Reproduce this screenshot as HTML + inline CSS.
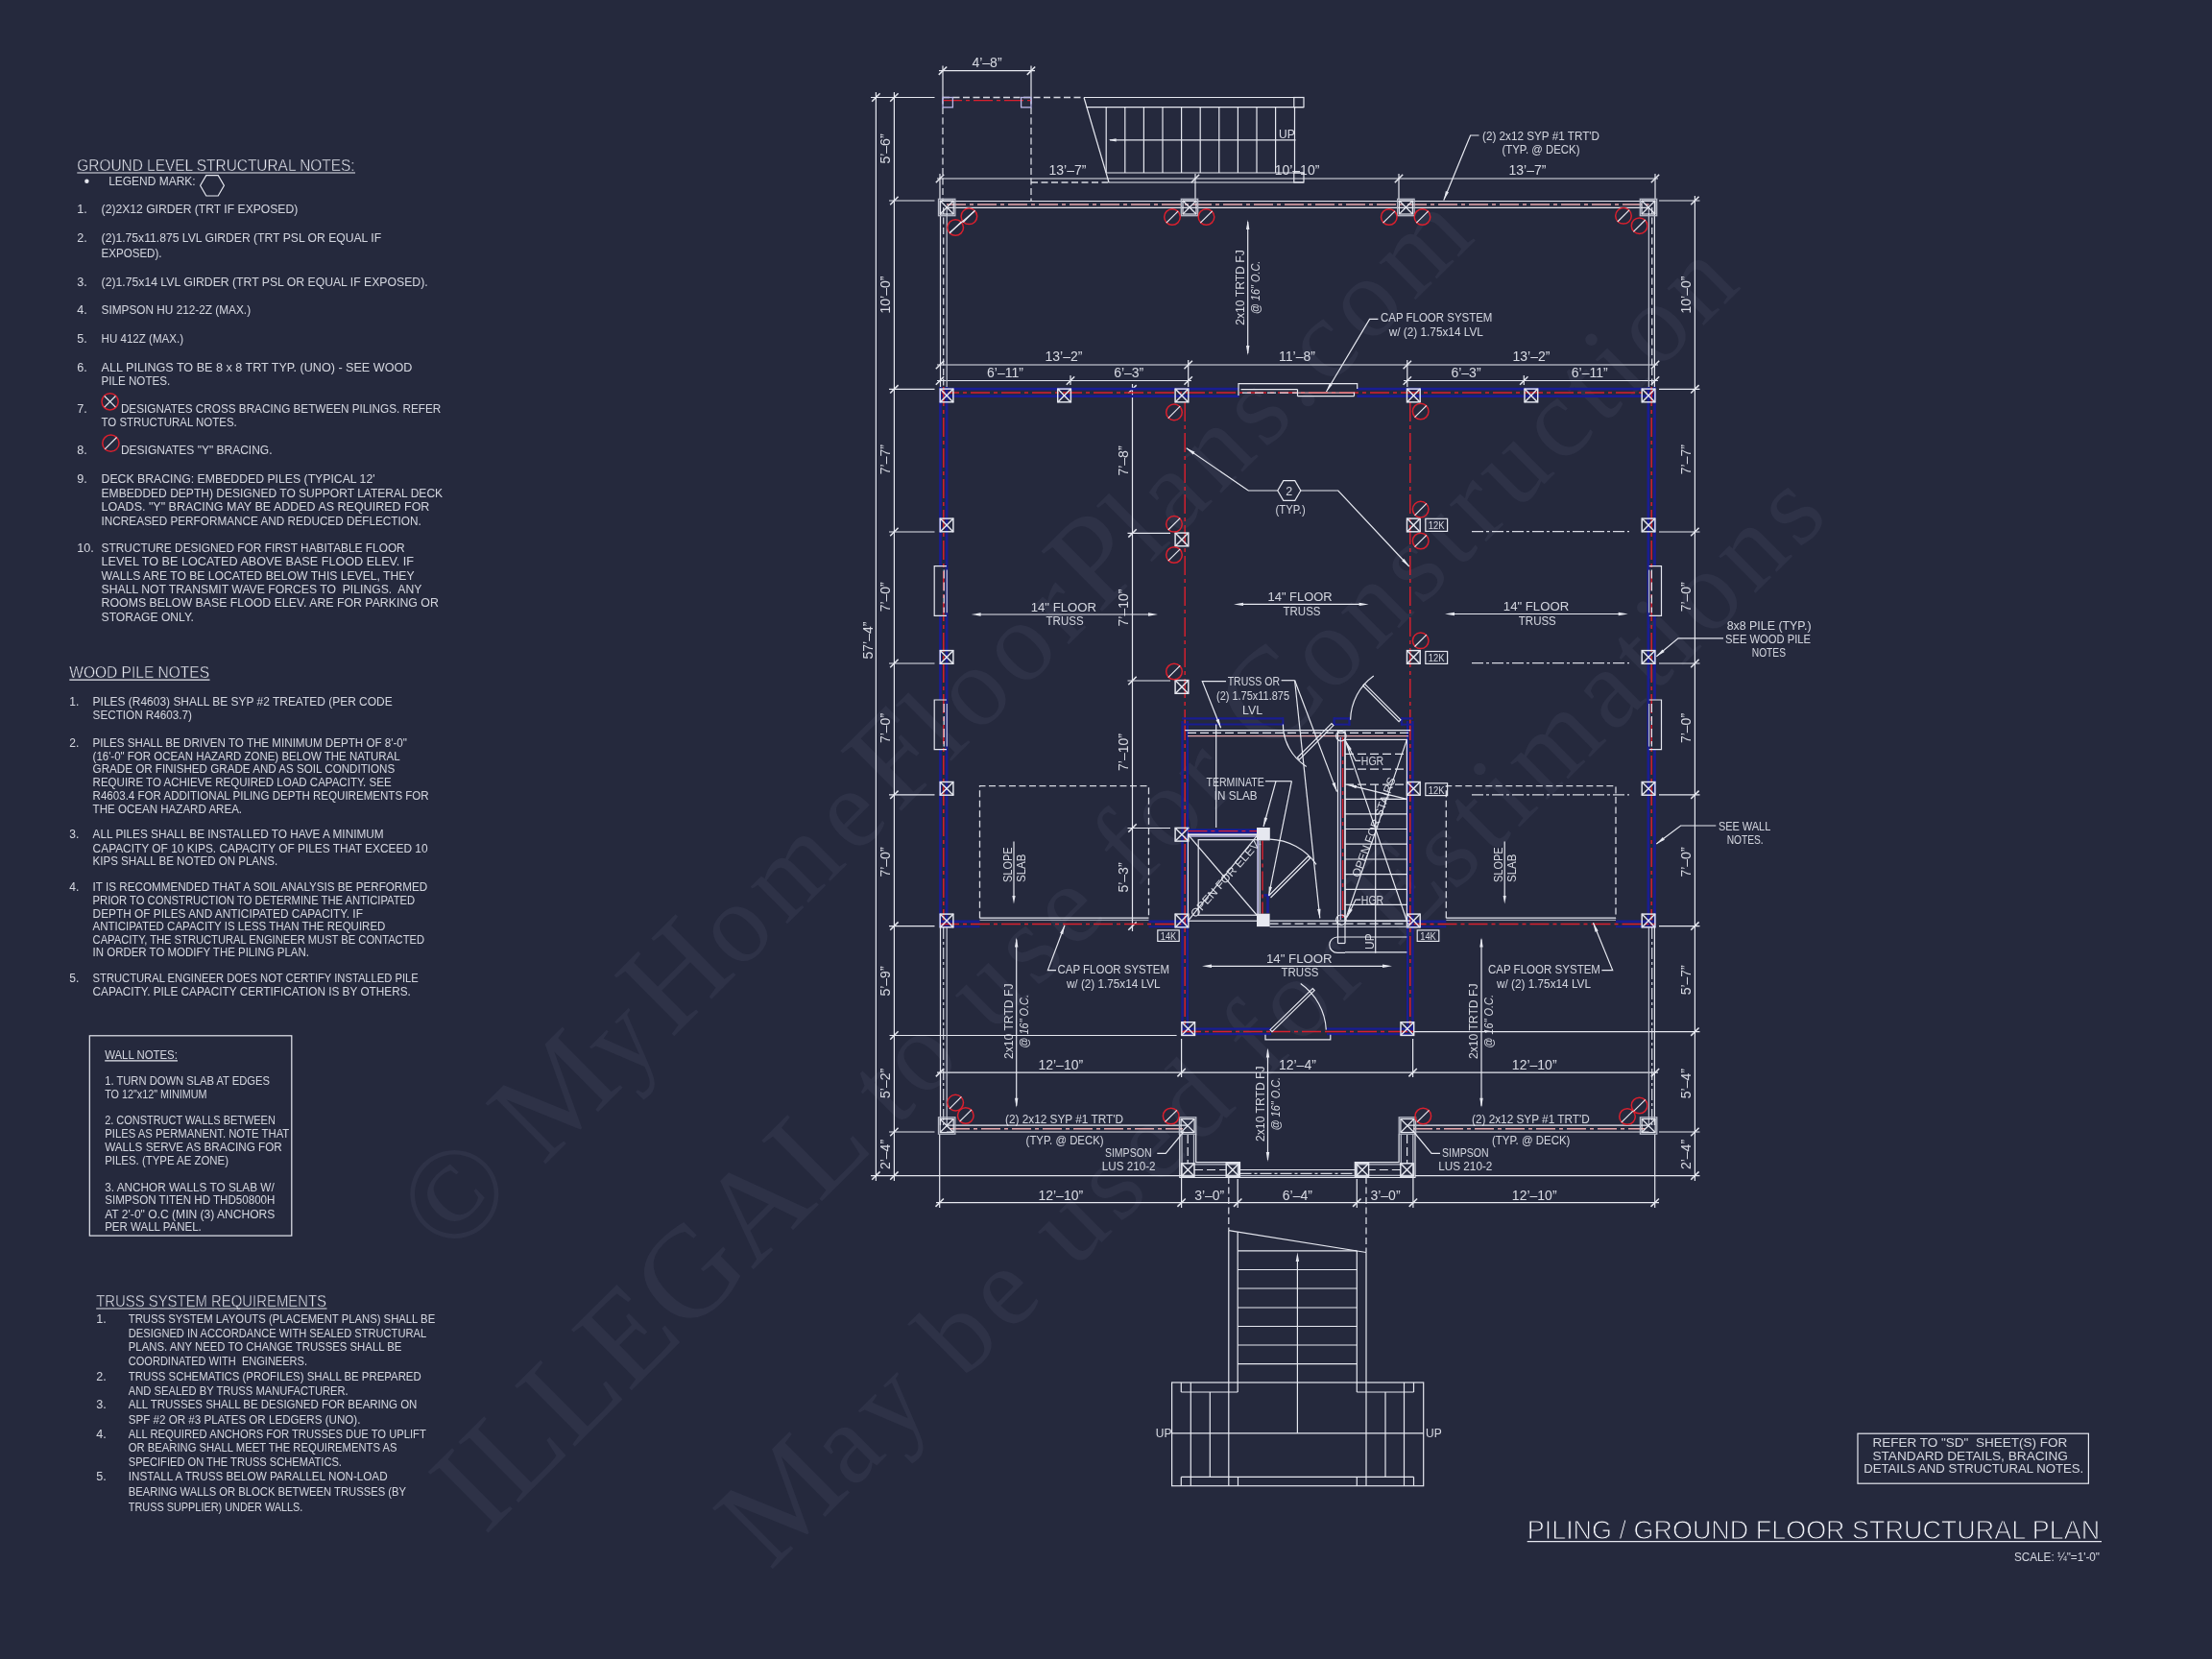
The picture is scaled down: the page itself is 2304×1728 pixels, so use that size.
<!DOCTYPE html>
<html lang="en"><head><meta charset="utf-8"><title>Piling / Ground Floor Structural Plan</title>
<style>
html,body{margin:0;padding:0;background:#25293d;}
body{width:2304px;height:1728px;overflow:hidden;}
svg{display:block;will-change:transform;}
text{font-family:"Liberation Sans",sans-serif;fill:#e6e8f0;white-space:pre;}
.t{fill:#e6e8f0;fill-opacity:.9;}
.d{fill:#e6e8f0;fill-opacity:.92;}
.th{fill:#e6e8f0;stroke:#25293d;stroke-width:.4;}
.tt{fill:#f2f3f8;stroke:#25293d;stroke-width:1.0;}
.wm{font-family:"Liberation Serif",serif;fill:#2e3247;}
.w{stroke:#e6e8f0;stroke-width:1.2;fill:none;}
.wt{stroke:#e6e8f0;stroke-width:.9;fill:none;stroke-opacity:.85;}
.g{stroke:#b9bcc9;stroke-width:1.3;fill:none;}
.wd{stroke:#e6e8f0;stroke-width:1.3;fill:none;stroke-dasharray:7 3.5;stroke-opacity:.92;}
.wdd{stroke:#e6e8f0;stroke-width:1.2;fill:none;stroke-dasharray:12 3 3 3;stroke-opacity:.92;}
.r{stroke:#d9202e;stroke-width:1.5;fill:none;}
.rd{stroke:#d9202e;stroke-width:1.45;fill:none;stroke-dasharray:20 4 4 4;}
.b{stroke:#191d92;stroke-width:2.7;fill:none;}
.bm{stroke:#191d92;stroke-width:2.3;fill:none;}
.bt{stroke:#191d92;stroke-width:2;fill:none;}
.p{stroke:#e8a7ab;stroke-width:1.6;fill:none;stroke-dasharray:20 4 4 4;}
.pk{stroke:#e8a7ab;stroke-width:1.3;fill:none;}
.lv{stroke:#b9b6e6;stroke-width:1.3;fill:none;}
.f{fill:#e6e8f0;stroke:none;}
.b2{stroke:#191d92;stroke-width:5.6;fill:none;}
.wl{stroke:#e6e8f0;stroke-width:1.2;fill:none;stroke-dasharray:9 4;}
.ar{fill:#e6e8f0;stroke:none;}
.pl{stroke:#e6e8f0;stroke-width:1.45;fill:none;}
.tk{stroke:#e6e8f0;stroke-width:1.5;fill:none;}
.ti{fill:#e6e8f0;fill-opacity:.9;font-style:italic;}
</style></head>
<body>
<svg width="2304" height="1728" viewBox="0 0 2304 1728">
<rect x="0" y="0" width="2304" height="1728" fill="#25293d"/>
<text x="468.0" y="1312.0" font-size="136" class="wm" aria-label="© MyHomeFloorPlans.com" transform="rotate(-44.8 468.0 1312.0)"><tspan>© M</tspan><tspan font-size="118.3" letter-spacing="8.84">y</tspan><tspan>H</tspan><tspan font-size="118.3" letter-spacing="10.15">ome</tspan><tspan>F</tspan><tspan font-size="118.3" letter-spacing="7.12">loor</tspan><tspan>P</tspan><tspan font-size="118.3" letter-spacing="7.92">lans.com</tspan></text>
<text x="505.0" y="1600.0" font-size="136" class="wm" aria-label="ILLEGAL to use for Construction" transform="rotate(-44.8 505.0 1600.0)"><tspan>ILLEGAL </tspan><tspan font-size="118.3" letter-spacing="6.88">to</tspan><tspan> </tspan><tspan font-size="118.3" letter-spacing="7.86">use</tspan><tspan> </tspan><tspan font-size="118.3" letter-spacing="6.87">for</tspan><tspan> C</tspan><tspan font-size="118.3" letter-spacing="7.23">onstruction</tspan></text>
<text x="802.0" y="1637.0" font-size="136" class="wm" aria-label="May be used for Estimations" transform="rotate(-44.8 802.0 1637.0)"><tspan>M</tspan><tspan font-size="118.3" letter-spacing="8.34">ay</tspan><tspan> </tspan><tspan font-size="118.3" letter-spacing="8.34">be</tspan><tspan> </tspan><tspan font-size="118.3" letter-spacing="8.10">used</tspan><tspan> </tspan><tspan font-size="118.3" letter-spacing="6.87">for</tspan><tspan> E</tspan><tspan font-size="118.3" letter-spacing="7.27">stimations</tspan></text>
<text x="80.3" y="177.8" font-size="16.8" class="th" textLength="289.3" lengthAdjust="spacingAndGlyphs">GROUND LEVEL STRUCTURAL NOTES:</text>
<line x1="80.3" y1="180.0" x2="370.0" y2="180.0" class="w"/>
<circle cx="90.4" cy="188.8" r="2.2" class="f"/>
<text x="113.2" y="193.0" font-size="12.6" class="t" textLength="90.4" lengthAdjust="spacingAndGlyphs">LEGEND MARK:</text>
<polygon points="233.4,193.3 227.2,204.0 214.8,204.0 208.6,193.3 214.8,182.6 227.2,182.6" class="w"/>
<text x="80.3" y="222.2" font-size="12.6" class="t">1.</text>
<text x="105.6" y="222.2" font-size="12.6" class="t" textLength="204.7" lengthAdjust="spacingAndGlyphs">(2)2X12 GIRDER (TRT IF EXPOSED)</text>
<text x="80.3" y="252.3" font-size="12.6" class="t">2.</text>
<text x="105.6" y="252.3" font-size="12.6" class="t" textLength="291.5" lengthAdjust="spacingAndGlyphs">(2)1.75x11.875 LVL GIRDER (TRT PSL OR EQUAL IF</text>
<text x="105.6" y="267.8" font-size="12.6" class="t" textLength="62.9" lengthAdjust="spacingAndGlyphs">EXPOSED).</text>
<text x="80.3" y="297.5" font-size="12.6" class="t">3.</text>
<text x="105.6" y="297.5" font-size="12.6" class="t" textLength="340.0" lengthAdjust="spacingAndGlyphs">(2)1.75x14 LVL GIRDER (TRT PSL OR EQUAL IF EXPOSED).</text>
<text x="80.3" y="327.1" font-size="12.6" class="t">4.</text>
<text x="105.6" y="327.1" font-size="12.6" class="t" textLength="155.5" lengthAdjust="spacingAndGlyphs">SIMPSON HU 212-2Z (MAX.)</text>
<text x="80.3" y="356.8" font-size="12.6" class="t">5.</text>
<text x="105.6" y="356.8" font-size="12.6" class="t" textLength="85.4" lengthAdjust="spacingAndGlyphs">HU 412Z (MAX.)</text>
<text x="80.3" y="386.8" font-size="12.6" class="t">6.</text>
<text x="105.6" y="386.8" font-size="12.6" class="t" textLength="323.7" lengthAdjust="spacingAndGlyphs">ALL PILINGS TO BE 8 x 8 TRT TYP. (UNO) - SEE WOOD</text>
<text x="105.6" y="401.3" font-size="12.6" class="t" textLength="71.6" lengthAdjust="spacingAndGlyphs">PILE NOTES.</text>
<text x="105.6" y="443.9" font-size="12.6" class="t" textLength="141.1" lengthAdjust="spacingAndGlyphs">TO STRUCTURAL NOTES.</text>
<text x="80.3" y="502.5" font-size="12.6" class="t">9.</text>
<text x="105.6" y="502.5" font-size="12.6" class="t" textLength="285.0" lengthAdjust="spacingAndGlyphs">DECK BRACING: EMBEDDED PILES (TYPICAL 12'</text>
<text x="105.6" y="517.7" font-size="12.6" class="t" textLength="355.5" lengthAdjust="spacingAndGlyphs">EMBEDDED DEPTH) DESIGNED TO SUPPORT LATERAL DECK</text>
<text x="105.6" y="532.2" font-size="12.6" class="t" textLength="341.8" lengthAdjust="spacingAndGlyphs">LOADS. "Y" BRACING MAY BE ADDED AS REQUIRED FOR</text>
<text x="105.6" y="546.7" font-size="12.6" class="t" textLength="333.1" lengthAdjust="spacingAndGlyphs">INCREASED PERFORMANCE AND REDUCED DEFLECTION.</text>
<text x="80.3" y="575.2" font-size="12.6" class="t">10.</text>
<text x="105.6" y="575.2" font-size="12.6" class="t" textLength="316.1" lengthAdjust="spacingAndGlyphs">STRUCTURE DESIGNED FOR FIRST HABITABLE FLOOR</text>
<text x="105.6" y="589.3" font-size="12.6" class="t" textLength="325.5" lengthAdjust="spacingAndGlyphs">LEVEL TO BE LOCATED ABOVE BASE FLOOD ELEV. IF</text>
<text x="105.6" y="603.8" font-size="12.6" class="t" textLength="325.9" lengthAdjust="spacingAndGlyphs">WALLS ARE TO BE LOCATED BELOW THIS LEVEL, THEY</text>
<text x="105.6" y="617.9" font-size="12.6" class="t" textLength="333.8" lengthAdjust="spacingAndGlyphs">SHALL NOT TRANSMIT WAVE FORCES TO  PILINGS.  ANY</text>
<text x="105.6" y="632.4" font-size="12.6" class="t" textLength="351.2" lengthAdjust="spacingAndGlyphs">ROOMS BELOW BASE FLOOD ELEV. ARE FOR PARKING OR</text>
<text x="105.6" y="646.5" font-size="12.6" class="t" textLength="96.2" lengthAdjust="spacingAndGlyphs">STORAGE ONLY.</text>
<text x="80.3" y="429.5" font-size="12.6" class="t">7.</text>
<text x="125.9" y="429.5" font-size="12.6" class="t" textLength="333.4" lengthAdjust="spacingAndGlyphs">DESIGNATES CROSS BRACING BETWEEN PILINGS. REFER</text>
<text x="80.3" y="472.5" font-size="12.6" class="t">8.</text>
<text x="125.9" y="472.5" font-size="12.6" class="t" textLength="157.6" lengthAdjust="spacingAndGlyphs">DESIGNATES "Y" BRACING.</text>
<circle cx="114.6" cy="418.3" r="8.6" class="r"/>
<line x1="108.8" y1="412.5" x2="120.4" y2="424.1" class="w"/>
<line x1="108.8" y1="424.1" x2="120.4" y2="412.5" class="w"/>
<circle cx="115.4" cy="461.7" r="8.6" class="r"/>
<line x1="109.2" y1="467.9" x2="121.6" y2="455.5" class="w"/>
<text x="72.3" y="706.0" font-size="16.6" class="th" textLength="145.7" lengthAdjust="spacingAndGlyphs">WOOD PILE NOTES</text>
<line x1="72.3" y1="708.2" x2="218.5" y2="708.2" class="w"/>
<text x="72.3" y="734.5" font-size="12.0" class="t">1.</text>
<text x="96.6" y="734.5" font-size="12.0" class="t" textLength="312.1" lengthAdjust="spacingAndGlyphs">PILES (R4603) SHALL BE SYP #2 TREATED (PER CODE</text>
<text x="96.6" y="749.3" font-size="12.0" class="t" textLength="103.4" lengthAdjust="spacingAndGlyphs">SECTION R4603.7)</text>
<text x="72.3" y="777.5" font-size="12.0" class="t">2.</text>
<text x="96.6" y="777.5" font-size="12.0" class="t" textLength="327.3" lengthAdjust="spacingAndGlyphs">PILES SHALL BE DRIVEN TO THE MINIMUM DEPTH OF 8'-0"</text>
<text x="96.6" y="791.6" font-size="12.0" class="t" textLength="320.0" lengthAdjust="spacingAndGlyphs">(16'-0" FOR OCEAN HAZARD ZONE) BELOW THE NATURAL</text>
<text x="96.6" y="805.4" font-size="12.0" class="t" textLength="314.6" lengthAdjust="spacingAndGlyphs">GRADE OR FINISHED GRADE AND AS SOIL CONDITIONS</text>
<text x="96.6" y="819.1" font-size="12.0" class="t" textLength="311.0" lengthAdjust="spacingAndGlyphs">REQUIRE TO ACHIEVE REQUIRED LOAD CAPACITY. SEE</text>
<text x="96.6" y="832.9" font-size="12.0" class="t" textLength="350.1" lengthAdjust="spacingAndGlyphs">R4603.4 FOR ADDITIONAL PILING DEPTH REQUIREMENTS FOR</text>
<text x="96.6" y="846.6" font-size="12.0" class="t" textLength="155.5" lengthAdjust="spacingAndGlyphs">THE OCEAN HAZARD AREA.</text>
<text x="72.3" y="873.4" font-size="12.0" class="t">3.</text>
<text x="96.6" y="873.4" font-size="12.0" class="t" textLength="303.0" lengthAdjust="spacingAndGlyphs">ALL PILES SHALL BE INSTALLED TO HAVE A MINIMUM</text>
<text x="96.6" y="887.5" font-size="12.0" class="t" textLength="349.0" lengthAdjust="spacingAndGlyphs">CAPACITY OF 10 KIPS. CAPACITY OF PILES THAT EXCEED 10</text>
<text x="96.6" y="901.2" font-size="12.0" class="t" textLength="192.7" lengthAdjust="spacingAndGlyphs">KIPS SHALL BE NOTED ON PLANS.</text>
<text x="72.3" y="928.0" font-size="12.0" class="t">4.</text>
<text x="96.6" y="928.0" font-size="12.0" class="t" textLength="348.6" lengthAdjust="spacingAndGlyphs">IT IS RECOMMENDED THAT A SOIL ANALYSIS BE PERFORMED</text>
<text x="96.6" y="941.7" font-size="12.0" class="t" textLength="335.6" lengthAdjust="spacingAndGlyphs">PRIOR TO CONSTRUCTION TO DETERMINE THE ANTICIPATED</text>
<text x="96.6" y="955.5" font-size="12.0" class="t" textLength="281.3" lengthAdjust="spacingAndGlyphs">DEPTH OF PILES AND ANTICIPATED CAPACITY. IF</text>
<text x="96.6" y="968.9" font-size="12.0" class="t" textLength="304.8" lengthAdjust="spacingAndGlyphs">ANTICIPATED CAPACITY IS LESS THAN THE REQUIRED</text>
<text x="96.6" y="982.6" font-size="12.0" class="t" textLength="345.4" lengthAdjust="spacingAndGlyphs">CAPACITY, THE STRUCTURAL ENGINEER MUST BE CONTACTED</text>
<text x="96.6" y="996.0" font-size="12.0" class="t" textLength="225.3" lengthAdjust="spacingAndGlyphs">IN ORDER TO MODIFY THE PILING PLAN.</text>
<text x="72.3" y="1023.1" font-size="12.0" class="t">5.</text>
<text x="96.6" y="1023.1" font-size="12.0" class="t" textLength="339.2" lengthAdjust="spacingAndGlyphs">STRUCTURAL ENGINEER DOES NOT CERTIFY INSTALLED PILE</text>
<text x="96.6" y="1036.9" font-size="12.0" class="t" textLength="331.2" lengthAdjust="spacingAndGlyphs">CAPACITY. PILE CAPACITY CERTIFICATION IS BY OTHERS.</text>
<rect x="93.3" y="1078.8" width="210.5" height="208.3" class="w"/>
<text x="109.2" y="1102.7" font-size="12.0" class="t" textLength="75.6" lengthAdjust="spacingAndGlyphs">WALL NOTES:</text>
<line x1="109.2" y1="1104.8" x2="185.0" y2="1104.8" class="w"/>
<text x="109.2" y="1130.2" font-size="12.0" class="t" textLength="171.8" lengthAdjust="spacingAndGlyphs">1. TURN DOWN SLAB AT EDGES</text>
<text x="109.2" y="1143.9" font-size="12.0" class="t" textLength="106.4" lengthAdjust="spacingAndGlyphs">TO 12"x12" MINIMUM</text>
<text x="109.2" y="1171.0" font-size="12.0" class="t" textLength="177.6" lengthAdjust="spacingAndGlyphs">2. CONSTRUCT WALLS BETWEEN</text>
<text x="109.2" y="1184.8" font-size="12.0" class="t" textLength="192.1" lengthAdjust="spacingAndGlyphs">PILES AS PERMANENT. NOTE THAT</text>
<text x="109.2" y="1198.5" font-size="12.0" class="t" textLength="184.5" lengthAdjust="spacingAndGlyphs">WALLS SERVE AS BRACING FOR</text>
<text x="109.2" y="1213.0" font-size="12.0" class="t" textLength="128.8" lengthAdjust="spacingAndGlyphs">PILES. (TYPE AE ZONE)</text>
<text x="109.2" y="1240.5" font-size="12.0" class="t" textLength="176.5" lengthAdjust="spacingAndGlyphs">3. ANCHOR WALLS TO SLAB W/</text>
<text x="109.2" y="1254.2" font-size="12.0" class="t" textLength="177.2" lengthAdjust="spacingAndGlyphs">SIMPSON TITEN HD THD50800H</text>
<text x="109.2" y="1268.7" font-size="12.0" class="t" textLength="177.2" lengthAdjust="spacingAndGlyphs">AT 2'-0" O.C (MIN (3) ANCHORS</text>
<text x="109.2" y="1282.4" font-size="12.0" class="t" textLength="100.6" lengthAdjust="spacingAndGlyphs">PER WALL PANEL.</text>
<text x="100.2" y="1360.9" font-size="16.6" class="th" textLength="239.8" lengthAdjust="spacingAndGlyphs">TRUSS SYSTEM REQUIREMENTS</text>
<line x1="100.2" y1="1363.0" x2="340.5" y2="1363.0" class="w"/>
<text x="100.2" y="1377.9" font-size="12.6" class="t">1.</text>
<text x="133.8" y="1377.9" font-size="12.6" class="t" textLength="319.4" lengthAdjust="spacingAndGlyphs">TRUSS SYSTEM LAYOUTS (PLACEMENT PLANS) SHALL BE</text>
<text x="133.8" y="1392.7" font-size="12.6" class="t" textLength="310.3" lengthAdjust="spacingAndGlyphs">DESIGNED IN ACCORDANCE WITH SEALED STRUCTURAL</text>
<text x="133.8" y="1407.2" font-size="12.6" class="t" textLength="284.6" lengthAdjust="spacingAndGlyphs">PLANS. ANY NEED TO CHANGE TRUSSES SHALL BE</text>
<text x="133.8" y="1422.0" font-size="12.6" class="t" textLength="186.2" lengthAdjust="spacingAndGlyphs">COORDINATED WITH  ENGINEERS.</text>
<text x="100.2" y="1437.6" font-size="12.6" class="t">2.</text>
<text x="133.8" y="1437.6" font-size="12.6" class="t" textLength="304.9" lengthAdjust="spacingAndGlyphs">TRUSS SCHEMATICS (PROFILES) SHALL BE PREPARED</text>
<text x="133.8" y="1452.8" font-size="12.6" class="t" textLength="228.9" lengthAdjust="spacingAndGlyphs">AND SEALED BY TRUSS MANUFACTURER.</text>
<text x="100.2" y="1467.2" font-size="12.6" class="t">3.</text>
<text x="133.8" y="1467.2" font-size="12.6" class="t" textLength="300.6" lengthAdjust="spacingAndGlyphs">ALL TRUSSES SHALL BE DESIGNED FOR BEARING ON</text>
<text x="133.8" y="1482.8" font-size="12.6" class="t" textLength="241.6" lengthAdjust="spacingAndGlyphs">SPF #2 OR #3 PLATES OR LEDGERS (UNO).</text>
<text x="100.2" y="1497.6" font-size="12.6" class="t">4.</text>
<text x="133.8" y="1497.6" font-size="12.6" class="t" textLength="310.0" lengthAdjust="spacingAndGlyphs">ALL REQUIRED ANCHORS FOR TRUSSES DUE TO UPLIFT</text>
<text x="133.8" y="1512.4" font-size="12.6" class="t" textLength="279.6" lengthAdjust="spacingAndGlyphs">OR BEARING SHALL MEET THE REQUIREMENTS AS</text>
<text x="133.8" y="1527.3" font-size="12.6" class="t" textLength="222.1" lengthAdjust="spacingAndGlyphs">SPECIFIED ON THE TRUSS SCHEMATICS.</text>
<text x="100.2" y="1542.1" font-size="12.6" class="t">5.</text>
<text x="133.8" y="1542.1" font-size="12.6" class="t" textLength="269.8" lengthAdjust="spacingAndGlyphs">INSTALL A TRUSS BELOW PARALLEL NON-LOAD</text>
<text x="133.8" y="1558.0" font-size="12.6" class="t" textLength="289.3" lengthAdjust="spacingAndGlyphs">BEARING WALLS OR BLOCK BETWEEN TRUSSES (BY</text>
<text x="133.8" y="1573.6" font-size="12.6" class="t" textLength="181.6" lengthAdjust="spacingAndGlyphs">TRUSS SUPPLIER) UNDER WALLS.</text>
<rect x="1935.0" y="1493.2" width="240.4" height="52.0" class="w"/>
<text x="1950.4" y="1507.0" font-size="12.6" class="t" textLength="202.9" lengthAdjust="spacingAndGlyphs">REFER TO "SD"  SHEET(S) FOR</text>
<text x="1950.4" y="1520.8" font-size="12.6" class="t" textLength="203.5" lengthAdjust="spacingAndGlyphs">STANDARD DETAILS, BRACING</text>
<text x="1941.2" y="1534.3" font-size="12.6" class="t" textLength="229.0" lengthAdjust="spacingAndGlyphs">DETAILS AND STRUCTURAL NOTES.</text>
<text x="1590.7" y="1602.6" font-size="28" class="tt" textLength="596.4" lengthAdjust="spacingAndGlyphs">PILING / GROUND FLOOR STRUCTURAL PLAN</text>
<line x1="1590.7" y1="1605.6" x2="2189.0" y2="1605.6" class="w"/>
<text x="2098.0" y="1626.0" font-size="12.6" class="t" textLength="89.0" lengthAdjust="spacingAndGlyphs">SCALE: ¼"=1'-0"</text>
<line x1="912.4" y1="96.0" x2="912.4" y2="1230.0" class="w"/>
<line x1="931.4" y1="96.0" x2="931.4" y2="1230.0" class="w"/>
<line x1="908.2" y1="105.7" x2="916.6" y2="97.3" class="tk"/>
<line x1="908.2" y1="1228.8" x2="916.6" y2="1220.4" class="tk"/>
<line x1="927.2" y1="105.7" x2="935.6" y2="97.3" class="tk"/>
<line x1="927.2" y1="213.2" x2="935.6" y2="204.8" class="tk"/>
<line x1="927.2" y1="409.5" x2="935.6" y2="401.1" class="tk"/>
<line x1="927.2" y1="558.2" x2="935.6" y2="549.8" class="tk"/>
<line x1="927.2" y1="695.2" x2="935.6" y2="686.8" class="tk"/>
<line x1="927.2" y1="832.0" x2="935.6" y2="823.6" class="tk"/>
<line x1="927.2" y1="968.8" x2="935.6" y2="960.4" class="tk"/>
<line x1="927.2" y1="1082.7" x2="935.6" y2="1074.3" class="tk"/>
<line x1="927.2" y1="1183.2" x2="935.6" y2="1174.8" class="tk"/>
<line x1="927.2" y1="1228.8" x2="935.6" y2="1220.4" class="tk"/>
<line x1="907.0" y1="101.5" x2="973.5" y2="101.5" class="w"/>
<line x1="926.0" y1="209.0" x2="973.5" y2="209.0" class="w"/>
<line x1="926.0" y1="405.3" x2="973.5" y2="405.3" class="w"/>
<line x1="926.0" y1="554.0" x2="973.5" y2="554.0" class="w"/>
<line x1="926.0" y1="691.0" x2="973.5" y2="691.0" class="w"/>
<line x1="926.0" y1="827.8" x2="973.5" y2="827.8" class="w"/>
<line x1="926.0" y1="964.6" x2="973.5" y2="964.6" class="w"/>
<line x1="926.0" y1="1179.0" x2="973.5" y2="1179.0" class="w"/>
<line x1="926.5" y1="1078.5" x2="1225.6" y2="1078.5" class="w"/>
<line x1="907.0" y1="1224.6" x2="1230.6" y2="1224.6" class="w"/>
<text x="0" y="5.0" font-size="14" class="d" text-anchor="middle" transform="translate(922.3 155.0) rotate(-90)">5’–6”</text>
<text x="0" y="5.0" font-size="14" class="d" text-anchor="middle" transform="translate(922.3 307.0) rotate(-90)">10’–0”</text>
<text x="0" y="5.0" font-size="14" class="d" text-anchor="middle" transform="translate(922.3 478.7) rotate(-90)">7’–7”</text>
<text x="0" y="5.0" font-size="14" class="d" text-anchor="middle" transform="translate(922.3 621.8) rotate(-90)">7’–0”</text>
<text x="0" y="5.0" font-size="14" class="d" text-anchor="middle" transform="translate(922.3 758.5) rotate(-90)">7’–0”</text>
<text x="0" y="5.0" font-size="14" class="d" text-anchor="middle" transform="translate(922.3 898.0) rotate(-90)">7’–0”</text>
<text x="0" y="5.0" font-size="14" class="d" text-anchor="middle" transform="translate(922.3 1022.0) rotate(-90)">5’–9”</text>
<text x="0" y="5.0" font-size="14" class="d" text-anchor="middle" transform="translate(922.3 1128.4) rotate(-90)">5’–2”</text>
<text x="0" y="5.0" font-size="14" class="d" text-anchor="middle" transform="translate(922.3 1202.5) rotate(-90)">2’–4”</text>
<text x="0" y="5.0" font-size="14" class="d" text-anchor="middle" transform="translate(903.5 667.0) rotate(-90)">57’–4”</text>
<line x1="1765.4" y1="204.0" x2="1765.4" y2="1230.0" class="w"/>
<line x1="1761.2" y1="213.2" x2="1769.6" y2="204.8" class="tk"/>
<line x1="1761.2" y1="409.5" x2="1769.6" y2="401.1" class="tk"/>
<line x1="1761.2" y1="558.2" x2="1769.6" y2="549.8" class="tk"/>
<line x1="1761.2" y1="695.2" x2="1769.6" y2="686.8" class="tk"/>
<line x1="1761.2" y1="832.0" x2="1769.6" y2="823.6" class="tk"/>
<line x1="1761.2" y1="968.8" x2="1769.6" y2="960.4" class="tk"/>
<line x1="1761.2" y1="1078.9" x2="1769.6" y2="1070.5" class="tk"/>
<line x1="1761.2" y1="1183.2" x2="1769.6" y2="1174.8" class="tk"/>
<line x1="1761.2" y1="1228.8" x2="1769.6" y2="1220.4" class="tk"/>
<line x1="1728.0" y1="209.0" x2="1770.5" y2="209.0" class="w"/>
<line x1="1728.0" y1="405.3" x2="1770.5" y2="405.3" class="w"/>
<line x1="1728.0" y1="554.0" x2="1770.5" y2="554.0" class="w"/>
<line x1="1728.0" y1="691.0" x2="1770.5" y2="691.0" class="w"/>
<line x1="1728.0" y1="827.8" x2="1770.5" y2="827.8" class="w"/>
<line x1="1728.0" y1="964.6" x2="1770.5" y2="964.6" class="w"/>
<line x1="1728.0" y1="1179.0" x2="1770.5" y2="1179.0" class="w"/>
<line x1="1473.0" y1="1074.7" x2="1770.5" y2="1074.7" class="w"/>
<line x1="1474.0" y1="1224.6" x2="1770.5" y2="1224.6" class="w"/>
<text x="0" y="5.0" font-size="14" class="d" text-anchor="middle" transform="translate(1755.8 307.0) rotate(-90)">10’–0”</text>
<text x="0" y="5.0" font-size="14" class="d" text-anchor="middle" transform="translate(1755.8 478.7) rotate(-90)">7’–7”</text>
<text x="0" y="5.0" font-size="14" class="d" text-anchor="middle" transform="translate(1755.8 621.8) rotate(-90)">7’–0”</text>
<text x="0" y="5.0" font-size="14" class="d" text-anchor="middle" transform="translate(1755.8 758.5) rotate(-90)">7’–0”</text>
<text x="0" y="5.0" font-size="14" class="d" text-anchor="middle" transform="translate(1755.8 898.0) rotate(-90)">7’–0”</text>
<text x="0" y="5.0" font-size="14" class="d" text-anchor="middle" transform="translate(1755.8 1020.8) rotate(-90)">5’–7”</text>
<text x="0" y="5.0" font-size="14" class="d" text-anchor="middle" transform="translate(1755.8 1128.7) rotate(-90)">5’–4”</text>
<text x="0" y="5.0" font-size="14" class="d" text-anchor="middle" transform="translate(1755.8 1202.5) rotate(-90)">2’–4”</text>
<line x1="1179.5" y1="400.0" x2="1179.5" y2="970.0" class="w"/>
<line x1="1175.3" y1="409.5" x2="1183.7" y2="401.1" class="tk"/>
<line x1="1175.3" y1="559.6" x2="1183.7" y2="551.2" class="tk"/>
<line x1="1175.3" y1="713.2" x2="1183.7" y2="704.8" class="tk"/>
<line x1="1175.3" y1="866.7" x2="1183.7" y2="858.3" class="tk"/>
<line x1="1175.3" y1="968.8" x2="1183.7" y2="960.4" class="tk"/>
<line x1="1174.5" y1="555.4" x2="1219.0" y2="555.4" class="w"/>
<line x1="1174.5" y1="709.0" x2="1219.0" y2="709.0" class="w"/>
<line x1="1174.5" y1="862.5" x2="1219.0" y2="862.5" class="w"/>
<line x1="1174.5" y1="405.3" x2="1219.0" y2="405.3" class="w"/>
<text x="0" y="5.0" font-size="14" class="d" text-anchor="middle" transform="translate(1170.4 480.0) rotate(-90)">7’–8”</text>
<text x="0" y="5.0" font-size="14" class="d" text-anchor="middle" transform="translate(1170.4 633.0) rotate(-90)">7’–10”</text>
<text x="0" y="5.0" font-size="14" class="d" text-anchor="middle" transform="translate(1170.4 783.5) rotate(-90)">7’–10”</text>
<text x="0" y="5.0" font-size="14" class="d" text-anchor="middle" transform="translate(1170.4 914.0) rotate(-90)">5’–3”</text>
<line x1="978.0" y1="73.7" x2="1078.0" y2="73.7" class="w"/>
<line x1="977.8" y1="77.9" x2="986.2" y2="69.5" class="tk"/>
<line x1="1069.8" y1="77.9" x2="1078.2" y2="69.5" class="tk"/>
<line x1="982.0" y1="68.5" x2="982.0" y2="101.5" class="w"/>
<line x1="1074.0" y1="68.5" x2="1074.0" y2="101.5" class="w"/>
<text x="1028.0" y="69.8" font-size="14" class="d" text-anchor="middle">4’–8”</text>
<line x1="976.0" y1="186.0" x2="1727.0" y2="186.0" class="w"/>
<line x1="974.8" y1="190.2" x2="983.2" y2="181.8" class="tk"/>
<line x1="1240.8" y1="190.2" x2="1249.2" y2="181.8" class="tk"/>
<line x1="1452.8" y1="190.2" x2="1461.2" y2="181.8" class="tk"/>
<line x1="1719.8" y1="190.2" x2="1728.2" y2="181.8" class="tk"/>
<line x1="1245.0" y1="181.0" x2="1245.0" y2="207.0" class="w"/>
<line x1="1457.0" y1="181.0" x2="1457.0" y2="207.0" class="w"/>
<line x1="979.0" y1="181.0" x2="979.0" y2="207.0" class="w"/>
<line x1="1724.0" y1="181.0" x2="1724.0" y2="207.0" class="w"/>
<text x="1112.0" y="182.3" font-size="14" class="d" text-anchor="middle">13’–7”</text>
<text x="1351.0" y="182.3" font-size="14" class="d" text-anchor="middle">10’–10”</text>
<text x="1591.0" y="182.3" font-size="14" class="d" text-anchor="middle">13’–7”</text>
<line x1="976.0" y1="380.0" x2="1727.0" y2="380.0" class="w"/>
<line x1="974.8" y1="384.2" x2="983.2" y2="375.8" class="tk"/>
<line x1="1233.5" y1="384.2" x2="1241.9" y2="375.8" class="tk"/>
<line x1="1461.6" y1="384.2" x2="1470.0" y2="375.8" class="tk"/>
<line x1="1719.8" y1="384.2" x2="1728.2" y2="375.8" class="tk"/>
<text x="1108.0" y="375.8" font-size="14" class="d" text-anchor="middle">13’–2”</text>
<text x="1351.0" y="375.8" font-size="14" class="d" text-anchor="middle">11’–8”</text>
<text x="1595.0" y="375.8" font-size="14" class="d" text-anchor="middle">13’–2”</text>
<line x1="976.0" y1="396.5" x2="1241.0" y2="396.5" class="w"/>
<line x1="1462.0" y1="396.5" x2="1727.0" y2="396.5" class="w"/>
<line x1="974.8" y1="400.7" x2="983.2" y2="392.3" class="tk"/>
<line x1="1110.8" y1="400.7" x2="1119.2" y2="392.3" class="tk"/>
<line x1="1233.5" y1="400.7" x2="1241.9" y2="392.3" class="tk"/>
<line x1="1461.6" y1="400.7" x2="1470.0" y2="392.3" class="tk"/>
<line x1="1583.1" y1="400.7" x2="1591.5" y2="392.3" class="tk"/>
<line x1="1719.8" y1="400.7" x2="1728.2" y2="392.3" class="tk"/>
<line x1="1115.0" y1="391.0" x2="1115.0" y2="401.0" class="w"/>
<line x1="1587.3" y1="391.0" x2="1587.3" y2="401.0" class="w"/>
<line x1="1237.7" y1="375.0" x2="1237.7" y2="403.0" class="w"/>
<line x1="1465.8" y1="375.0" x2="1465.8" y2="403.0" class="w"/>
<text x="1047.0" y="392.8" font-size="14" class="d" text-anchor="middle">6’–11”</text>
<text x="1175.7" y="392.8" font-size="14" class="d" text-anchor="middle">6’–3”</text>
<text x="1527.0" y="392.8" font-size="14" class="d" text-anchor="middle">6’–3”</text>
<text x="1655.7" y="392.8" font-size="14" class="d" text-anchor="middle">6’–11”</text>
<line x1="976.0" y1="1117.2" x2="1727.0" y2="1117.2" class="w"/>
<line x1="974.8" y1="1121.4" x2="983.2" y2="1113.0" class="tk"/>
<line x1="1226.4" y1="1121.4" x2="1234.8" y2="1113.0" class="tk"/>
<line x1="1467.4" y1="1121.4" x2="1475.8" y2="1113.0" class="tk"/>
<line x1="1719.8" y1="1121.4" x2="1728.2" y2="1113.0" class="tk"/>
<line x1="1230.6" y1="1082.0" x2="1230.6" y2="1122.0" class="w"/>
<line x1="1471.6" y1="1082.0" x2="1471.6" y2="1122.0" class="w"/>
<text x="1104.8" y="1113.6" font-size="14" class="d" text-anchor="middle">12’–10”</text>
<text x="1351.4" y="1113.6" font-size="14" class="d" text-anchor="middle">12’–4”</text>
<text x="1598.2" y="1113.6" font-size="14" class="d" text-anchor="middle">12’–10”</text>
<line x1="975.0" y1="1252.7" x2="1728.0" y2="1252.7" class="w"/>
<line x1="974.5" y1="1256.9" x2="982.9" y2="1248.5" class="tk"/>
<line x1="1226.4" y1="1256.9" x2="1234.8" y2="1248.5" class="tk"/>
<line x1="1285.0" y1="1256.9" x2="1293.4" y2="1248.5" class="tk"/>
<line x1="1409.1" y1="1256.9" x2="1417.5" y2="1248.5" class="tk"/>
<line x1="1467.7" y1="1256.9" x2="1476.1" y2="1248.5" class="tk"/>
<line x1="1719.5" y1="1256.9" x2="1727.9" y2="1248.5" class="tk"/>
<line x1="978.7" y1="1181.0" x2="978.7" y2="1258.0" class="w"/>
<line x1="1723.7" y1="1181.0" x2="1723.7" y2="1258.0" class="w"/>
<line x1="1230.6" y1="1226.0" x2="1230.6" y2="1258.0" class="w"/>
<line x1="1471.9" y1="1226.0" x2="1471.9" y2="1258.0" class="w"/>
<line x1="1289.2" y1="1228.0" x2="1289.2" y2="1258.0" class="w"/>
<line x1="1413.3" y1="1228.0" x2="1413.3" y2="1258.0" class="w"/>
<text x="1104.8" y="1249.6" font-size="14" class="d" text-anchor="middle">12’–10”</text>
<text x="1259.7" y="1249.6" font-size="14" class="d" text-anchor="middle">3’–0”</text>
<text x="1351.4" y="1249.6" font-size="14" class="d" text-anchor="middle">6’–4”</text>
<text x="1443.0" y="1249.6" font-size="14" class="d" text-anchor="middle">3’–0”</text>
<text x="1598.2" y="1249.6" font-size="14" class="d" text-anchor="middle">12’–10”</text>
<line x1="982.0" y1="101.5" x2="1129.0" y2="101.5" class="wd"/>
<line x1="982.0" y1="101.5" x2="982.0" y2="209.0" class="wd"/>
<line x1="1074.0" y1="101.5" x2="1074.0" y2="209.0" class="wd"/>
<line x1="1074.0" y1="190.0" x2="1155.0" y2="190.0" class="wd"/>
<line x1="982.0" y1="104.6" x2="1074.0" y2="104.6" class="rd"/>
<rect x="982.0" y="101.5" width="10.4" height="10.3" class="lv"/>
<rect x="1063.6" y="101.5" width="10.4" height="10.3" class="lv"/>
<line x1="1129.0" y1="101.5" x2="1358.0" y2="101.5" class="w"/>
<line x1="1131.5" y1="111.6" x2="1358.0" y2="111.6" class="w"/>
<rect x="1347.8" y="101.5" width="10.2" height="10.1" class="w"/>
<line x1="1129.0" y1="101.5" x2="1155.0" y2="190.0" class="w"/>
<line x1="1153.0" y1="180.0" x2="1358.0" y2="180.0" class="w"/>
<line x1="1155.0" y1="190.0" x2="1358.0" y2="190.0" class="w"/>
<rect x="1347.8" y="180.0" width="10.2" height="10.0" class="w"/>
<line x1="1348.5" y1="111.6" x2="1348.5" y2="180.0" class="w"/>
<line x1="1152.2" y1="111.6" x2="1152.2" y2="180.0" class="w"/>
<line x1="1171.8" y1="111.6" x2="1171.8" y2="180.0" class="w"/>
<line x1="1191.4" y1="111.6" x2="1191.4" y2="180.0" class="w"/>
<line x1="1211.0" y1="111.6" x2="1211.0" y2="180.0" class="w"/>
<line x1="1230.6" y1="111.6" x2="1230.6" y2="180.0" class="w"/>
<line x1="1250.2" y1="111.6" x2="1250.2" y2="180.0" class="w"/>
<line x1="1269.8" y1="111.6" x2="1269.8" y2="180.0" class="w"/>
<line x1="1289.4" y1="111.6" x2="1289.4" y2="180.0" class="w"/>
<line x1="1309.0" y1="111.6" x2="1309.0" y2="180.0" class="w"/>
<line x1="1328.6" y1="111.6" x2="1328.6" y2="180.0" class="w"/>
<line x1="1349.5" y1="145.8" x2="1156.0" y2="145.8" class="w"/>
<polygon points="1154.6,145.8 1162.6,144.2 1162.6,147.4" class="ar"/>
<text x="1332.0" y="144.3" font-size="12" class="d">UP</text>
<line x1="979.0" y1="209.5" x2="1724.0" y2="209.5" class="w"/>
<line x1="986.0" y1="216.3" x2="1717.5" y2="216.3" class="w"/>
<line x1="986.0" y1="213.0" x2="1717.5" y2="213.0" class="p"/>
<line x1="979.5" y1="209.5" x2="979.5" y2="405.0" class="w"/>
<line x1="982.7" y1="216.0" x2="982.7" y2="405.0" class="wd"/>
<line x1="986.2" y1="216.3" x2="986.2" y2="405.0" class="g"/>
<line x1="1717.4" y1="216.3" x2="1717.4" y2="405.0" class="g"/>
<line x1="1720.7" y1="216.0" x2="1720.7" y2="405.0" class="wd"/>
<line x1="1723.4" y1="209.5" x2="1723.4" y2="405.0" class="w"/>
<rect x="977.5" y="207.3" width="17.4" height="17.4" class="g"/>
<rect x="979.2" y="209.0" width="14.0" height="14.0" class="w"/>
<line x1="979.2" y1="209.0" x2="993.2" y2="223.0" class="w"/>
<line x1="979.2" y1="223.0" x2="993.2" y2="209.0" class="w"/>
<rect x="1230.3" y="207.3" width="17.4" height="17.4" class="g"/>
<rect x="1232.0" y="209.0" width="14.0" height="14.0" class="w"/>
<line x1="1232.0" y1="209.0" x2="1246.0" y2="223.0" class="w"/>
<line x1="1232.0" y1="223.0" x2="1246.0" y2="209.0" class="w"/>
<rect x="1455.7" y="207.3" width="17.4" height="17.4" class="g"/>
<rect x="1457.4" y="209.0" width="14.0" height="14.0" class="w"/>
<line x1="1457.4" y1="209.0" x2="1471.4" y2="223.0" class="w"/>
<line x1="1457.4" y1="223.0" x2="1471.4" y2="209.0" class="w"/>
<rect x="1708.3" y="207.3" width="17.4" height="17.4" class="g"/>
<rect x="1710.0" y="209.0" width="14.0" height="14.0" class="w"/>
<line x1="1710.0" y1="209.0" x2="1724.0" y2="223.0" class="w"/>
<line x1="1710.0" y1="223.0" x2="1724.0" y2="209.0" class="w"/>
<circle cx="1009.4" cy="225.3" r="8.3" class="r"/>
<line x1="1003.2" y1="231.5" x2="1015.6" y2="219.1" class="w"/>
<circle cx="995.2" cy="237.0" r="8.3" class="r"/>
<line x1="989.0" y1="243.2" x2="1001.4" y2="230.8" class="w"/>
<circle cx="1221.0" cy="226.0" r="8.3" class="r"/>
<line x1="1214.8" y1="232.2" x2="1227.2" y2="219.8" class="w"/>
<circle cx="1256.5" cy="226.0" r="8.3" class="r"/>
<line x1="1250.3" y1="232.2" x2="1262.7" y2="219.8" class="w"/>
<circle cx="1446.8" cy="226.0" r="8.3" class="r"/>
<line x1="1440.6" y1="232.2" x2="1453.0" y2="219.8" class="w"/>
<circle cx="1481.5" cy="226.0" r="8.3" class="r"/>
<line x1="1475.3" y1="232.2" x2="1487.7" y2="219.8" class="w"/>
<circle cx="1691.0" cy="224.8" r="8.3" class="r"/>
<line x1="1684.8" y1="231.0" x2="1697.2" y2="218.6" class="w"/>
<circle cx="1707.6" cy="235.2" r="8.3" class="r"/>
<line x1="1701.4" y1="241.4" x2="1713.8" y2="229.0" class="w"/>
<line x1="989.3" y1="242.1" x2="1015.0" y2="220.0" class="w"/>
<line x1="1299.7" y1="231.0" x2="1299.7" y2="368.0" class="w"/>
<polygon points="1299.7,229.0 1301.4,239.0 1298.0,239.0" class="ar"/>
<polygon points="1299.7,370.0 1298.0,360.0 1301.4,360.0" class="ar"/>
<text x="0" y="4.5" font-size="12.5" class="t" text-anchor="middle" textLength="78.5" lengthAdjust="spacingAndGlyphs" transform="translate(1291.6 299.5) rotate(-90)">2x10 TRTD FJ</text>
<text x="0" y="4.5" font-size="12.5" class="ti" text-anchor="middle" textLength="55.7" lengthAdjust="spacingAndGlyphs" transform="translate(1307.2 299.5) rotate(-90)">@ 16" O.C.</text>
<text x="1544.0" y="145.5" font-size="12.5" class="t" textLength="122.0" lengthAdjust="spacingAndGlyphs">(2) 2x12 SYP #1 TRT'D</text>
<text x="1564.5" y="160.2" font-size="12.5" class="t" textLength="81.0" lengthAdjust="spacingAndGlyphs">(TYP. @ DECK)</text>
<polyline points="1540.5,141.0 1531.6,141.0 1503.8,208.4" class="w"/>
<polygon points="1503.8,208.4 1505.9,199.0 1509.0,200.3" class="ar"/>
<text x="1438.0" y="335.1" font-size="12.5" class="t" textLength="116.4" lengthAdjust="spacingAndGlyphs">CAP FLOOR SYSTEM</text>
<text x="1446.8" y="350.3" font-size="12.5" class="t" textLength="98.0" lengthAdjust="spacingAndGlyphs">w/ (2) 1.75x14 LVL</text>
<polyline points="1435.4,332.4 1426.6,332.4 1381.5,408.0" class="w"/>
<polygon points="1381.5,408.0 1384.9,399.0 1387.8,400.7" class="ar"/>
<line x1="979.0" y1="405.2" x2="1290.5" y2="405.2" class="b"/>
<line x1="979.0" y1="412.6" x2="1290.5" y2="412.6" class="b"/>
<line x1="1413.4" y1="405.2" x2="1724.5" y2="405.2" class="b"/>
<line x1="1413.4" y1="412.6" x2="1724.5" y2="412.6" class="b"/>
<line x1="979.0" y1="408.9" x2="1724.5" y2="408.9" class="rd"/>
<line x1="979.5" y1="403.0" x2="979.5" y2="589.6" class="b"/>
<line x1="1723.5" y1="403.0" x2="1723.5" y2="589.6" class="b"/>
<line x1="979.5" y1="641.3" x2="979.5" y2="729.0" class="b"/>
<line x1="1723.5" y1="641.3" x2="1723.5" y2="729.0" class="b"/>
<line x1="979.5" y1="780.6" x2="979.5" y2="966.0" class="b"/>
<line x1="1723.5" y1="780.6" x2="1723.5" y2="966.0" class="b"/>
<line x1="986.1" y1="403.0" x2="986.1" y2="966.0" class="b"/>
<line x1="1716.9" y1="403.0" x2="1716.9" y2="966.0" class="b"/>
<line x1="982.8" y1="403.0" x2="982.8" y2="966.0" class="rd"/>
<line x1="1720.2" y1="403.0" x2="1720.2" y2="966.0" class="rd"/>
<line x1="979.0" y1="959.8" x2="1020.5" y2="959.8" class="b"/>
<line x1="1196.5" y1="959.8" x2="1237.5" y2="959.8" class="b"/>
<line x1="979.0" y1="965.2" x2="1020.5" y2="965.2" class="bt"/>
<line x1="1196.5" y1="965.2" x2="1237.5" y2="965.2" class="bt"/>
<line x1="979.0" y1="962.4" x2="1237.5" y2="962.4" class="rd"/>
<line x1="1465.5" y1="959.8" x2="1506.3" y2="959.8" class="b"/>
<line x1="1683.0" y1="959.8" x2="1724.5" y2="959.8" class="b"/>
<line x1="1465.5" y1="965.2" x2="1506.3" y2="965.2" class="bt"/>
<line x1="1683.0" y1="965.2" x2="1724.5" y2="965.2" class="bt"/>
<line x1="1465.5" y1="962.4" x2="1724.5" y2="962.4" class="rd"/>
<line x1="1234.2" y1="419.0" x2="1234.2" y2="751.0" class="rd"/>
<line x1="1468.8" y1="419.0" x2="1468.8" y2="751.0" class="rd"/>
<line x1="1231.5" y1="751.0" x2="1231.5" y2="1075.0" class="bm"/>
<line x1="1236.9" y1="751.0" x2="1236.9" y2="1075.0" class="bm"/>
<line x1="1234.2" y1="751.0" x2="1234.2" y2="1075.0" class="rd"/>
<line x1="1466.1" y1="751.0" x2="1466.1" y2="1075.0" class="bm"/>
<line x1="1471.5" y1="751.0" x2="1471.5" y2="1075.0" class="bm"/>
<line x1="1468.8" y1="751.0" x2="1468.8" y2="1075.0" class="rd"/>
<line x1="1231.0" y1="1071.6" x2="1324.0" y2="1071.6" class="bm"/>
<line x1="1231.0" y1="1077.2" x2="1324.0" y2="1077.2" class="bm"/>
<line x1="1231.0" y1="1074.4" x2="1324.0" y2="1074.4" class="rd"/>
<line x1="1382.0" y1="1071.6" x2="1472.0" y2="1071.6" class="bm"/>
<line x1="1382.0" y1="1077.2" x2="1472.0" y2="1077.2" class="bm"/>
<line x1="1382.0" y1="1074.4" x2="1472.0" y2="1074.4" class="rd"/>
<line x1="1324.0" y1="1074.4" x2="1382.0" y2="1074.4" class="rd"/>
<line x1="1231.0" y1="748.4" x2="1337.0" y2="748.4" class="bm"/>
<line x1="1231.0" y1="754.6" x2="1337.0" y2="754.6" class="bt"/>
<line x1="1389.0" y1="748.4" x2="1406.5" y2="748.4" class="bm"/>
<line x1="1389.0" y1="754.6" x2="1406.5" y2="754.6" class="bt"/>
<line x1="1459.0" y1="748.4" x2="1472.0" y2="748.4" class="bm"/>
<line x1="1459.0" y1="754.6" x2="1472.0" y2="754.6" class="bt"/>
<line x1="1336.4" y1="747.3" x2="1336.4" y2="755.6" class="bt"/>
<line x1="1389.6" y1="747.3" x2="1389.6" y2="755.6" class="bm"/>
<line x1="1405.5" y1="747.3" x2="1405.5" y2="755.6" class="bm"/>
<line x1="1460.0" y1="747.3" x2="1460.0" y2="755.6" class="bm"/>
<rect x="979.2" y="405.1" width="13.7" height="13.7" class="pl"/>
<line x1="979.2" y1="405.1" x2="993.0" y2="418.9" class="pl"/>
<line x1="979.2" y1="418.9" x2="993.0" y2="405.1" class="pl"/>
<rect x="1101.7" y="405.1" width="13.7" height="13.7" class="pl"/>
<line x1="1101.7" y1="405.1" x2="1115.3" y2="418.9" class="pl"/>
<line x1="1101.7" y1="418.9" x2="1115.3" y2="405.1" class="pl"/>
<rect x="1224.1" y="405.1" width="13.7" height="13.7" class="pl"/>
<line x1="1224.1" y1="405.1" x2="1237.8" y2="418.9" class="pl"/>
<line x1="1224.1" y1="418.9" x2="1237.8" y2="405.1" class="pl"/>
<rect x="1465.5" y="405.1" width="13.7" height="13.7" class="pl"/>
<line x1="1465.5" y1="405.1" x2="1479.1" y2="418.9" class="pl"/>
<line x1="1465.5" y1="418.9" x2="1479.1" y2="405.1" class="pl"/>
<rect x="1588.0" y="405.1" width="13.7" height="13.7" class="pl"/>
<line x1="1588.0" y1="405.1" x2="1601.6" y2="418.9" class="pl"/>
<line x1="1588.0" y1="418.9" x2="1601.6" y2="405.1" class="pl"/>
<rect x="1710.2" y="405.1" width="13.7" height="13.7" class="pl"/>
<line x1="1710.2" y1="405.1" x2="1723.9" y2="418.9" class="pl"/>
<line x1="1710.2" y1="418.9" x2="1723.9" y2="405.1" class="pl"/>
<rect x="979.2" y="540.1" width="13.7" height="13.7" class="pl"/>
<line x1="979.2" y1="540.1" x2="993.0" y2="553.9" class="pl"/>
<line x1="979.2" y1="553.9" x2="993.0" y2="540.1" class="pl"/>
<rect x="1710.2" y="540.1" width="13.7" height="13.7" class="pl"/>
<line x1="1710.2" y1="540.1" x2="1723.9" y2="553.9" class="pl"/>
<line x1="1710.2" y1="553.9" x2="1723.9" y2="540.1" class="pl"/>
<rect x="979.2" y="677.6" width="13.7" height="13.7" class="pl"/>
<line x1="979.2" y1="677.6" x2="993.0" y2="691.4" class="pl"/>
<line x1="979.2" y1="691.4" x2="993.0" y2="677.6" class="pl"/>
<rect x="1710.2" y="677.6" width="13.7" height="13.7" class="pl"/>
<line x1="1710.2" y1="677.6" x2="1723.9" y2="691.4" class="pl"/>
<line x1="1710.2" y1="691.4" x2="1723.9" y2="677.6" class="pl"/>
<rect x="979.2" y="814.5" width="13.7" height="13.7" class="pl"/>
<line x1="979.2" y1="814.5" x2="993.0" y2="828.2" class="pl"/>
<line x1="979.2" y1="828.2" x2="993.0" y2="814.5" class="pl"/>
<rect x="1710.2" y="814.5" width="13.7" height="13.7" class="pl"/>
<line x1="1710.2" y1="814.5" x2="1723.9" y2="828.2" class="pl"/>
<line x1="1710.2" y1="828.2" x2="1723.9" y2="814.5" class="pl"/>
<rect x="979.2" y="952.1" width="13.7" height="13.7" class="pl"/>
<line x1="979.2" y1="952.1" x2="993.0" y2="965.9" class="pl"/>
<line x1="979.2" y1="965.9" x2="993.0" y2="952.1" class="pl"/>
<rect x="1710.2" y="952.1" width="13.7" height="13.7" class="pl"/>
<line x1="1710.2" y1="952.1" x2="1723.9" y2="965.9" class="pl"/>
<line x1="1710.2" y1="965.9" x2="1723.9" y2="952.1" class="pl"/>
<rect x="1224.1" y="555.1" width="13.7" height="13.7" class="pl"/>
<line x1="1224.1" y1="555.1" x2="1237.8" y2="568.9" class="pl"/>
<line x1="1224.1" y1="568.9" x2="1237.8" y2="555.1" class="pl"/>
<rect x="1224.1" y="708.6" width="13.7" height="13.7" class="pl"/>
<line x1="1224.1" y1="708.6" x2="1237.8" y2="722.4" class="pl"/>
<line x1="1224.1" y1="722.4" x2="1237.8" y2="708.6" class="pl"/>
<rect x="1224.1" y="862.4" width="13.7" height="13.7" class="pl"/>
<line x1="1224.1" y1="862.4" x2="1237.8" y2="876.1" class="pl"/>
<line x1="1224.1" y1="876.1" x2="1237.8" y2="862.4" class="pl"/>
<rect x="1224.1" y="952.1" width="13.7" height="13.7" class="pl"/>
<line x1="1224.1" y1="952.1" x2="1237.8" y2="965.9" class="pl"/>
<line x1="1224.1" y1="965.9" x2="1237.8" y2="952.1" class="pl"/>
<rect x="1465.5" y="540.1" width="13.7" height="13.7" class="pl"/>
<line x1="1465.5" y1="540.1" x2="1479.1" y2="553.9" class="pl"/>
<line x1="1465.5" y1="553.9" x2="1479.1" y2="540.1" class="pl"/>
<rect x="1465.5" y="677.6" width="13.7" height="13.7" class="pl"/>
<line x1="1465.5" y1="677.6" x2="1479.1" y2="691.4" class="pl"/>
<line x1="1465.5" y1="691.4" x2="1479.1" y2="677.6" class="pl"/>
<rect x="1465.5" y="814.5" width="13.7" height="13.7" class="pl"/>
<line x1="1465.5" y1="814.5" x2="1479.1" y2="828.2" class="pl"/>
<line x1="1465.5" y1="828.2" x2="1479.1" y2="814.5" class="pl"/>
<rect x="1465.5" y="952.1" width="13.7" height="13.7" class="pl"/>
<line x1="1465.5" y1="952.1" x2="1479.1" y2="965.9" class="pl"/>
<line x1="1465.5" y1="965.9" x2="1479.1" y2="952.1" class="pl"/>
<rect x="1230.8" y="1064.7" width="13.7" height="13.7" class="pl"/>
<line x1="1230.8" y1="1064.7" x2="1244.4" y2="1078.3" class="pl"/>
<line x1="1230.8" y1="1078.3" x2="1244.4" y2="1064.7" class="pl"/>
<rect x="1459.0" y="1064.7" width="13.7" height="13.7" class="pl"/>
<line x1="1459.0" y1="1064.7" x2="1472.6" y2="1078.3" class="pl"/>
<line x1="1459.0" y1="1078.3" x2="1472.6" y2="1064.7" class="pl"/>
<circle cx="1223.0" cy="429.4" r="8.3" class="r"/>
<line x1="1216.8" y1="435.6" x2="1229.2" y2="423.2" class="w"/>
<circle cx="1223.0" cy="545.8" r="8.3" class="r"/>
<line x1="1216.8" y1="552.0" x2="1229.2" y2="539.6" class="w"/>
<circle cx="1223.0" cy="578.0" r="8.3" class="r"/>
<line x1="1216.8" y1="584.2" x2="1229.2" y2="571.8" class="w"/>
<circle cx="1223.0" cy="699.5" r="8.3" class="r"/>
<line x1="1216.8" y1="705.7" x2="1229.2" y2="693.3" class="w"/>
<circle cx="1479.7" cy="428.5" r="8.3" class="r"/>
<line x1="1473.5" y1="434.7" x2="1485.9" y2="422.3" class="w"/>
<circle cx="1479.7" cy="530.6" r="8.3" class="r"/>
<line x1="1473.5" y1="536.8" x2="1485.9" y2="524.4" class="w"/>
<circle cx="1479.7" cy="563.5" r="8.3" class="r"/>
<line x1="1473.5" y1="569.7" x2="1485.9" y2="557.3" class="w"/>
<circle cx="1479.7" cy="667.3" r="8.3" class="r"/>
<line x1="1473.5" y1="673.5" x2="1485.9" y2="661.1" class="w"/>
<rect x="1484.8" y="540.3" width="22.8" height="13.1" class="w"/>
<text x="1496.2" y="551.3" font-size="11.5" class="t" text-anchor="middle" textLength="16.8" lengthAdjust="spacingAndGlyphs">12K</text>
<rect x="1484.8" y="678.5" width="22.8" height="12.9" class="w"/>
<text x="1496.2" y="689.4" font-size="11.5" class="t" text-anchor="middle" textLength="16.8" lengthAdjust="spacingAndGlyphs">12K</text>
<rect x="1484.8" y="815.8" width="22.8" height="12.8" class="w"/>
<text x="1496.2" y="826.6" font-size="11.5" class="t" text-anchor="middle" textLength="16.8" lengthAdjust="spacingAndGlyphs">12K</text>
<rect x="1205.8" y="968.9" width="22.4" height="11.5" class="w"/>
<text x="1217.0" y="979.1" font-size="11.5" class="t" text-anchor="middle" textLength="16.4" lengthAdjust="spacingAndGlyphs">14K</text>
<rect x="1476.2" y="968.9" width="22.6" height="11.5" class="w"/>
<text x="1487.5" y="979.1" font-size="11.5" class="t" text-anchor="middle" textLength="16.6" lengthAdjust="spacingAndGlyphs">14K</text>
<line x1="1533.0" y1="553.7" x2="1697.0" y2="553.7" class="wdd"/>
<line x1="1533.0" y1="690.6" x2="1697.0" y2="690.6" class="wdd"/>
<line x1="1533.0" y1="827.8" x2="1697.0" y2="827.8" class="wdd"/>
<polyline points="986.0,589.6 973.2,589.6 973.2,641.3 986.0,641.3" class="w"/>
<line x1="983.2" y1="593.6" x2="983.2" y2="638.3" class="wl"/>
<line x1="986.3" y1="593.6" x2="986.3" y2="638.3" class="g"/>
<polyline points="1717.7,589.6 1730.5,589.6 1730.5,641.3 1717.7,641.3" class="w"/>
<line x1="1720.4" y1="593.6" x2="1720.4" y2="638.3" class="wl"/>
<line x1="1717.6" y1="593.6" x2="1717.6" y2="638.3" class="g"/>
<polyline points="986.0,729.0 973.2,729.0 973.2,780.6 986.0,780.6" class="w"/>
<line x1="983.2" y1="733.0" x2="983.2" y2="777.6" class="wl"/>
<line x1="986.3" y1="733.0" x2="986.3" y2="777.6" class="g"/>
<polyline points="1717.7,729.0 1730.5,729.0 1730.5,780.6 1717.7,780.6" class="w"/>
<line x1="1720.4" y1="733.0" x2="1720.4" y2="777.6" class="wl"/>
<line x1="1717.6" y1="733.0" x2="1717.6" y2="777.6" class="g"/>
<polyline points="1290.0,412.0 1290.0,399.7 1413.7,399.7 1413.7,405.0" class="w"/>
<line x1="1292.5" y1="405.6" x2="1351.5" y2="405.6" class="w"/>
<line x1="1351.5" y1="405.6" x2="1351.5" y2="412.6" class="w"/>
<line x1="1351.5" y1="412.6" x2="1410.5" y2="412.6" class="w"/>
<line x1="1410.5" y1="412.6" x2="1410.5" y2="408.5" class="w"/>
<line x1="1294.0" y1="409.2" x2="1351.0" y2="409.2" class="wl"/>
<line x1="1352.0" y1="409.2" x2="1410.0" y2="409.2" class="pk"/>
<line x1="1019.6" y1="640.0" x2="1198.0" y2="640.0" class="w"/>
<polygon points="1011.6,640.0 1021.6,638.3 1021.6,641.7" class="ar"/>
<polygon points="1206.0,640.0 1196.0,641.7 1196.0,638.3" class="ar"/>
<text x="1073.7" y="636.5" font-size="12.5" class="t" textLength="68.3" lengthAdjust="spacingAndGlyphs">14" FLOOR</text>
<text x="1089.6" y="651.1" font-size="12.5" class="t" textLength="39.0" lengthAdjust="spacingAndGlyphs">TRUSS</text>
<line x1="1293.0" y1="629.4" x2="1417.6" y2="629.4" class="w"/>
<polygon points="1285.0,629.4 1295.0,627.7 1295.0,631.1" class="ar"/>
<polygon points="1425.6,629.4 1415.6,631.1 1415.6,627.7" class="ar"/>
<text x="1320.5" y="625.9" font-size="12.5" class="t" textLength="67.1" lengthAdjust="spacingAndGlyphs">14" FLOOR</text>
<text x="1336.5" y="640.5" font-size="12.5" class="t" textLength="39.0" lengthAdjust="spacingAndGlyphs">TRUSS</text>
<line x1="1513.0" y1="639.5" x2="1687.7" y2="639.5" class="w"/>
<polygon points="1505.0,639.5 1515.0,637.8 1515.0,641.2" class="ar"/>
<polygon points="1695.7,639.5 1685.7,641.2 1685.7,637.8" class="ar"/>
<text x="1565.8" y="636.1" font-size="12.5" class="t" textLength="68.4" lengthAdjust="spacingAndGlyphs">14" FLOOR</text>
<text x="1581.8" y="650.6" font-size="12.5" class="t" textLength="39.0" lengthAdjust="spacingAndGlyphs">TRUSS</text>
<line x1="1260.0" y1="1006.3" x2="1442.0" y2="1006.3" class="w"/>
<polygon points="1252.0,1006.3 1262.0,1004.6 1262.0,1008.0" class="ar"/>
<polygon points="1450.0,1006.3 1440.0,1008.0 1440.0,1004.6" class="ar"/>
<text x="1319.0" y="1002.8" font-size="12.5" class="t" textLength="68.6" lengthAdjust="spacingAndGlyphs">14" FLOOR</text>
<text x="1334.5" y="1017.4" font-size="12.5" class="t" textLength="39.0" lengthAdjust="spacingAndGlyphs">TRUSS</text>
<polygon points="1354.8,511.0 1348.8,521.4 1336.8,521.4 1330.8,511.0 1336.8,500.6 1348.8,500.6" class="w"/>
<text x="1342.8" y="515.7" font-size="12.5" class="t" text-anchor="middle">2</text>
<text x="1328.6" y="535.1" font-size="12.5" class="t" textLength="31.1" lengthAdjust="spacingAndGlyphs">(TYP.)</text>
<polyline points="1330.8,511.0 1300.3,511.0 1235.7,466.8" class="w"/>
<polygon points="1235.7,466.8 1244.5,470.8 1242.6,473.6" class="ar"/>
<polyline points="1354.8,511.0 1393.8,511.0 1467.8,590.0" class="w"/>
<polygon points="1467.8,590.0 1460.1,584.2 1462.5,581.9" class="ar"/>
<text x="1798.7" y="655.9" font-size="12.5" class="t" textLength="87.9" lengthAdjust="spacingAndGlyphs">8x8 PILE (TYP.)</text>
<text x="1797.0" y="670.1" font-size="12.5" class="t" textLength="89.0" lengthAdjust="spacingAndGlyphs">SEE WOOD PILE</text>
<text x="1824.8" y="683.5" font-size="12.5" class="t" textLength="35.2" lengthAdjust="spacingAndGlyphs">NOTES</text>
<polyline points="1795.0,664.8 1748.0,664.8 1725.3,683.8" class="w"/>
<polygon points="1725.3,683.8 1731.5,676.4 1733.7,679.0" class="ar"/>
<text x="1789.9" y="865.3" font-size="12.5" class="t" textLength="54.4" lengthAdjust="spacingAndGlyphs">SEE WALL</text>
<text x="1798.7" y="878.5" font-size="12.5" class="t" textLength="38.0" lengthAdjust="spacingAndGlyphs">NOTES.</text>
<polyline points="1787.3,860.0 1750.6,860.0 1725.3,879.0" class="w"/>
<polygon points="1725.3,879.0 1731.9,871.9 1733.9,874.7" class="ar"/>
<polyline points="1020.5,956.2 1020.5,818.7 1196.5,818.7 1196.5,956.2" class="wd"/>
<line x1="1020.5" y1="956.2" x2="1196.5" y2="956.2" class="w"/>
<line x1="1020.5" y1="958.3" x2="1196.5" y2="958.3" class="wt"/>
<line x1="1056.0" y1="876.5" x2="1056.0" y2="935.0" class="w"/>
<polygon points="1056.0,941.5 1054.4,933.0 1057.6,933.0" class="ar"/>
<text font-size="12.5" class="d" textLength="36.7" lengthAdjust="spacingAndGlyphs" transform="translate(1053.6 919) rotate(-90)">SLOPE</text>
<text font-size="12.5" class="d" textLength="29.4" lengthAdjust="spacingAndGlyphs" transform="translate(1067.8 919) rotate(-90)">SLAB</text>
<polyline points="1506.3,956.2 1506.3,818.7 1683.0,818.7 1683.0,956.2" class="wd"/>
<line x1="1506.3" y1="956.2" x2="1683.0" y2="956.2" class="w"/>
<line x1="1506.3" y1="958.3" x2="1683.0" y2="958.3" class="wt"/>
<line x1="1567.2" y1="876.5" x2="1567.2" y2="935.0" class="w"/>
<polygon points="1567.2,941.5 1565.6,933.0 1568.8,933.0" class="ar"/>
<text font-size="12.5" class="d" textLength="36.7" lengthAdjust="spacingAndGlyphs" transform="translate(1564.8 919) rotate(-90)">SLOPE</text>
<text font-size="12.5" class="d" textLength="29.4" lengthAdjust="spacingAndGlyphs" transform="translate(1579.0 919) rotate(-90)">SLAB</text>
<line x1="1234.2" y1="760.6" x2="1469.2" y2="760.6" class="w"/>
<line x1="1237.0" y1="763.4" x2="1467.0" y2="763.4" class="wl"/>
<line x1="1237.0" y1="766.6" x2="1467.0" y2="766.6" class="pk"/>
<line x1="1266.7" y1="754.5" x2="1266.7" y2="862.0" class="w"/>
<line x1="1237.4" y1="864.6" x2="1309.0" y2="864.6" class="b"/>
<line x1="1237.4" y1="866.6" x2="1309.0" y2="866.6" class="b"/>
<line x1="1237.4" y1="865.6" x2="1309.0" y2="865.6" class="rd"/>
<line x1="1237.4" y1="868.9" x2="1309.0" y2="868.9" class="lv"/>
<line x1="1237.4" y1="871.0" x2="1309.0" y2="871.0" class="lv"/>
<rect x="1237.4" y="869.5" width="72.9" height="89.7" class="w"/>
<rect x="1248.2" y="874.7" width="62.1" height="78.5" class="w"/>
<line x1="1238.3" y1="870.4" x2="1309.4" y2="953.5" class="w"/>
<line x1="1238.3" y1="958.2" x2="1309.4" y2="870.4" class="w"/>
<line x1="1310.3" y1="875.4" x2="1310.3" y2="951.7" class="lv"/>
<line x1="1312.2" y1="875.4" x2="1312.2" y2="951.7" class="w"/>
<line x1="1315.0" y1="875.4" x2="1315.0" y2="951.7" class="rd"/>
<rect x="1309.0" y="862.0" width="13.8" height="13.4" class="f"/>
<rect x="1309.0" y="951.7" width="13.6" height="13.4" class="f"/>
<line x1="1316.5" y1="932.5" x2="1322.5" y2="932.5" class="b"/>
<line x1="1320.5" y1="932.0" x2="1320.5" y2="951.0" class="b"/>
<polyline points="1321.5,933.0 1362.6,891.9 1364.6,893.9 1323.5,935.0" class="w"/>
<path d="M1322.6 874.2 A 62 62 0 0 1 1371 900.3" class="w"/>
<text x="0.0" y="0.0" font-size="11.8" class="d" textLength="104.0" lengthAdjust="spacingAndGlyphs" transform="translate(1245.3 956.5) rotate(-48.6)">OPEN FOR ELEV.</text>
<line x1="1322.6" y1="959.2" x2="1469.0" y2="959.2" class="w"/>
<line x1="1322.6" y1="962.2" x2="1469.0" y2="962.2" class="wl"/>
<line x1="1322.6" y1="965.3" x2="1469.0" y2="965.3" class="g"/>
<line x1="1393.5" y1="761.0" x2="1393.5" y2="982.5" class="w"/>
<line x1="1401.0" y1="761.0" x2="1401.0" y2="982.5" class="w"/>
<line x1="1393.5" y1="982.5" x2="1401.0" y2="982.5" class="w"/>
<line x1="1396.3" y1="768.0" x2="1396.3" y2="958.0" class="lv"/>
<line x1="1398.6" y1="768.0" x2="1398.6" y2="958.0" class="rd"/>
<circle cx="1396.9" cy="766.6" r="5.2" class="w"/>
<circle cx="1396.9" cy="958.2" r="5.2" class="w"/>
<rect x="1401.0" y="770.4" width="64.4" height="188.8" class="w"/>
<line x1="1401.0" y1="785.3" x2="1465.4" y2="785.3" class="wl"/>
<line x1="1401.0" y1="801.2" x2="1465.4" y2="801.2" class="wl"/>
<line x1="1401.0" y1="817.1" x2="1465.4" y2="817.1" class="wl"/>
<line x1="1401.0" y1="832.4" x2="1465.4" y2="832.4" class="w"/>
<line x1="1401.0" y1="847.9" x2="1465.4" y2="847.9" class="w"/>
<line x1="1401.0" y1="863.5" x2="1465.4" y2="863.5" class="w"/>
<line x1="1401.0" y1="879.2" x2="1465.4" y2="879.2" class="w"/>
<line x1="1401.0" y1="895.0" x2="1465.4" y2="895.0" class="w"/>
<line x1="1401.0" y1="910.6" x2="1465.4" y2="910.6" class="w"/>
<line x1="1401.0" y1="926.4" x2="1465.4" y2="926.4" class="w"/>
<line x1="1401.0" y1="942.3" x2="1465.4" y2="942.3" class="w"/>
<line x1="1401.0" y1="976.0" x2="1465.4" y2="976.0" class="w"/>
<line x1="1401.0" y1="991.9" x2="1465.4" y2="991.9" class="w"/>
<line x1="1432.7" y1="817.1" x2="1432.7" y2="992.8" class="w"/>
<line x1="1401.0" y1="770.4" x2="1465.4" y2="959.2" class="w"/>
<line x1="1465.4" y1="770.4" x2="1401.0" y2="959.2" class="w"/>
<path d="M1401 976 L1393 976 A 8.2 8.2 0 0 0 1393 992.4 L1401 992.4" class="w"/>
<polyline points="1465.4,832.4 1403.5,817.3" class="w"/>
<polygon points="1403.5,817.3 1413.1,817.9 1412.3,821.2" class="ar"/>
<text x="1417.8" y="796.9" font-size="12.5" class="t" textLength="23.4" lengthAdjust="spacingAndGlyphs">HGR</text>
<text x="1417.8" y="941.6" font-size="12.5" class="t" textLength="23.4" lengthAdjust="spacingAndGlyphs">HGR</text>
<polyline points="1417.2,792.4 1412.1,792.4 1402.0,772.5" class="w"/>
<polygon points="1402.0,772.5 1407.8,780.2 1404.8,781.7" class="ar"/>
<polyline points="1417.2,937.1 1412.1,937.1 1403.0,955.4" class="w"/>
<polygon points="1403.0,955.4 1405.7,946.1 1408.8,947.7" class="ar"/>
<text x="0.0" y="0.0" font-size="11.8" class="d" textLength="110.0" lengthAdjust="spacingAndGlyphs" transform="translate(1415.6 914.5) rotate(-69.6)">OPEN FOR STAIRS</text>
<text font-size="12" class="d" transform="translate(1431.2 989) rotate(-90)">UP</text>
<polygon points="1421.5,712.4 1458.9,749.8 1457.1,751.6 1419.7,714.2" class="w"/>
<path d="M1430.8 704 A 58 58 0 0 0 1406.6 749.8" class="w"/>
<polygon points="1386.9,753.6 1351.4,789.1 1353.4,791.1 1388.9,755.6" class="w"/>
<path d="M1336.4 754.5 A 52 52 0 0 0 1360.7 798.4" class="w"/>
<text x="1278.7" y="714.4" font-size="12.5" class="t" textLength="54.3" lengthAdjust="spacingAndGlyphs">TRUSS OR</text>
<text x="1267.0" y="729.3" font-size="12.5" class="t" textLength="76.0" lengthAdjust="spacingAndGlyphs">(2) 1.75x11.875</text>
<text x="1294.0" y="743.5" font-size="12.5" class="t" textLength="21.0" lengthAdjust="spacingAndGlyphs">LVL</text>
<polyline points="1277.0,709.6 1252.3,709.6 1271.6,758.2" class="w"/>
<polygon points="1271.6,758.2 1266.5,750.0 1269.7,748.7" class="ar"/>
<polyline points="1334.6,708.7 1348.6,708.7" class="w"/>
<polyline points="1348.6,708.7 1392.5,824.6" class="w"/>
<polygon points="1392.5,824.6 1387.5,816.3 1390.7,815.1" class="ar"/>
<polyline points="1348.6,708.7 1374.8,956.4" class="w"/>
<polygon points="1374.8,956.4 1372.1,947.1 1375.5,946.8" class="ar"/>
<text x="1256.5" y="818.9" font-size="12.5" class="t" textLength="60.2" lengthAdjust="spacingAndGlyphs">TERMINATE</text>
<text x="1264.8" y="832.9" font-size="12.5" class="t" textLength="44.8" lengthAdjust="spacingAndGlyphs">IN SLAB</text>
<polyline points="1318.0,813.7 1345.4,813.7" class="w"/>
<polyline points="1329.0,813.7 1316.0,861.0" class="w"/>
<polygon points="1316.0,861.0 1316.9,851.4 1320.2,852.3" class="ar"/>
<polyline points="1345.4,813.7 1321.5,933.0" class="w"/>
<polygon points="1321.5,933.0 1321.7,923.4 1325.0,924.0" class="ar"/>
<polygon points="1323.0,1072.6 1367.3,1029.6 1369.2,1031.6 1325.0,1074.6" class="w"/>
<path d="M1354.7 1024.6 A 62 62 0 0 1 1381.3 1072.6" class="w"/>
<polyline points="1318.0,1077.7 1318.0,1082.8 1385.8,1082.8 1385.8,1077.7" class="w"/>
<line x1="979.5" y1="966.0" x2="979.5" y2="1172.0" class="w"/>
<line x1="982.7" y1="966.0" x2="982.7" y2="1172.0" class="wdd"/>
<line x1="986.2" y1="966.0" x2="986.2" y2="1172.0" class="g"/>
<line x1="1723.4" y1="966.0" x2="1723.4" y2="1172.0" class="w"/>
<line x1="1720.7" y1="966.0" x2="1720.7" y2="1172.0" class="wdd"/>
<line x1="1717.4" y1="966.0" x2="1717.4" y2="1172.0" class="g"/>
<line x1="986.0" y1="1172.2" x2="1237.0" y2="1172.2" class="w"/>
<line x1="986.0" y1="1179.0" x2="1231.0" y2="1179.0" class="w"/>
<line x1="990.0" y1="1175.8" x2="1232.0" y2="1175.8" class="p"/>
<line x1="1467.0" y1="1172.2" x2="1717.5" y2="1172.2" class="w"/>
<line x1="1473.5" y1="1179.0" x2="1717.5" y2="1179.0" class="w"/>
<line x1="1472.0" y1="1175.8" x2="1714.0" y2="1175.8" class="p"/>
<rect x="977.5" y="1163.8" width="17.4" height="17.4" class="g"/>
<rect x="979.2" y="1165.5" width="14.0" height="14.0" class="w"/>
<line x1="979.2" y1="1165.5" x2="993.2" y2="1179.5" class="w"/>
<line x1="979.2" y1="1179.5" x2="993.2" y2="1165.5" class="w"/>
<rect x="1228.4" y="1163.8" width="17.4" height="17.4" class="g"/>
<rect x="1230.1" y="1165.5" width="14.0" height="14.0" class="w"/>
<line x1="1230.1" y1="1165.5" x2="1244.1" y2="1179.5" class="w"/>
<line x1="1230.1" y1="1179.5" x2="1244.1" y2="1165.5" class="w"/>
<rect x="1457.2" y="1163.8" width="17.4" height="17.4" class="g"/>
<rect x="1458.9" y="1165.5" width="14.0" height="14.0" class="w"/>
<line x1="1458.9" y1="1165.5" x2="1472.9" y2="1179.5" class="w"/>
<line x1="1458.9" y1="1179.5" x2="1472.9" y2="1165.5" class="w"/>
<rect x="1708.4" y="1163.8" width="17.4" height="17.4" class="g"/>
<rect x="1710.1" y="1165.5" width="14.0" height="14.0" class="w"/>
<line x1="1710.1" y1="1165.5" x2="1724.1" y2="1179.5" class="w"/>
<line x1="1710.1" y1="1179.5" x2="1724.1" y2="1165.5" class="w"/>
<circle cx="995.2" cy="1148.6" r="8.3" class="r"/>
<line x1="989.0" y1="1154.8" x2="1001.4" y2="1142.4" class="w"/>
<circle cx="1005.8" cy="1162.0" r="8.3" class="r"/>
<line x1="999.6" y1="1168.2" x2="1012.0" y2="1155.8" class="w"/>
<circle cx="1219.7" cy="1162.5" r="8.3" class="r"/>
<line x1="1213.5" y1="1168.7" x2="1225.9" y2="1156.3" class="w"/>
<circle cx="1482.3" cy="1162.5" r="8.3" class="r"/>
<line x1="1476.1" y1="1168.7" x2="1488.5" y2="1156.3" class="w"/>
<circle cx="1695.0" cy="1163.0" r="8.3" class="r"/>
<line x1="1688.8" y1="1169.2" x2="1701.2" y2="1156.8" class="w"/>
<circle cx="1707.6" cy="1151.5" r="8.3" class="r"/>
<line x1="1701.4" y1="1157.7" x2="1713.8" y2="1145.3" class="w"/>
<text x="1047.0" y="1169.5" font-size="12.5" class="t" textLength="123.0" lengthAdjust="spacingAndGlyphs">(2) 2x12 SYP #1 TRT'D</text>
<text x="1068.6" y="1191.8" font-size="12.5" class="t" textLength="81.0" lengthAdjust="spacingAndGlyphs">(TYP. @ DECK)</text>
<text x="1533.0" y="1169.5" font-size="12.5" class="t" textLength="122.7" lengthAdjust="spacingAndGlyphs">(2) 2x12 SYP #1 TRT'D</text>
<text x="1554.0" y="1191.8" font-size="12.5" class="t" textLength="81.4" lengthAdjust="spacingAndGlyphs">(TYP. @ DECK)</text>
<text x="1150.9" y="1205.3" font-size="12.5" class="t" textLength="48.6" lengthAdjust="spacingAndGlyphs">SIMPSON</text>
<text x="1147.8" y="1218.9" font-size="12.5" class="t" textLength="55.7" lengthAdjust="spacingAndGlyphs">LUS 210-2</text>
<text x="1502.0" y="1205.3" font-size="12.5" class="t" textLength="48.6" lengthAdjust="spacingAndGlyphs">SIMPSON</text>
<text x="1498.2" y="1218.9" font-size="12.5" class="t" textLength="56.2" lengthAdjust="spacingAndGlyphs">LUS 210-2</text>
<polyline points="1205.3,1201.3 1214.2,1201.3 1233.2,1178.5" class="w"/>
<polyline points="1500.0,1201.3 1491.1,1201.3 1472.2,1178.5" class="w"/>
<text x="1101.5" y="1013.9" font-size="12.5" class="t" textLength="116.5" lengthAdjust="spacingAndGlyphs">CAP FLOOR SYSTEM</text>
<text x="1110.9" y="1029.1" font-size="12.5" class="t" textLength="97.7" lengthAdjust="spacingAndGlyphs">w/ (2) 1.75x14 LVL</text>
<polyline points="1100.0,1010.6 1091.4,1010.6 1109.0,963.8" class="w"/>
<polygon points="1109.0,963.8 1107.2,973.3 1104.1,972.1" class="ar"/>
<text x="1549.9" y="1013.9" font-size="12.5" class="t" textLength="117.1" lengthAdjust="spacingAndGlyphs">CAP FLOOR SYSTEM</text>
<text x="1559.0" y="1029.1" font-size="12.5" class="t" textLength="98.0" lengthAdjust="spacingAndGlyphs">w/ (2) 1.75x14 LVL</text>
<polyline points="1668.4,1010.6 1679.7,1010.6 1659.5,961.3" class="w"/>
<polygon points="1659.5,961.3 1664.7,969.4 1661.5,970.7" class="ar"/>
<line x1="1058.7" y1="978.5" x2="1058.7" y2="1151.7" class="w"/>
<polygon points="1058.7,976.5 1060.4,986.5 1057.0,986.5" class="ar"/>
<polygon points="1058.7,1153.7 1057.0,1143.7 1060.4,1143.7" class="ar"/>
<text x="0" y="4.5" font-size="12.5" class="t" text-anchor="middle" textLength="78.5" lengthAdjust="spacingAndGlyphs" transform="translate(1050.6 1063.8) rotate(-90)">2x10 TRTD FJ</text>
<text x="0" y="4.5" font-size="12.5" class="ti" text-anchor="middle" textLength="55.7" lengthAdjust="spacingAndGlyphs" transform="translate(1066.2 1063.8) rotate(-90)">@ 16" O.C.</text>
<line x1="1543.0" y1="978.5" x2="1543.0" y2="1151.7" class="w"/>
<polygon points="1543.0,976.5 1544.7,986.5 1541.3,986.5" class="ar"/>
<polygon points="1543.0,1153.7 1541.3,1143.7 1544.7,1143.7" class="ar"/>
<text x="0" y="4.5" font-size="12.5" class="t" text-anchor="middle" textLength="78.5" lengthAdjust="spacingAndGlyphs" transform="translate(1534.9 1063.8) rotate(-90)">2x10 TRTD FJ</text>
<text x="0" y="4.5" font-size="12.5" class="ti" text-anchor="middle" textLength="55.7" lengthAdjust="spacingAndGlyphs" transform="translate(1550.5 1063.8) rotate(-90)">@ 16" O.C.</text>
<line x1="1320.5" y1="1093.6" x2="1320.5" y2="1208.0" class="w"/>
<polygon points="1320.5,1091.6 1322.2,1101.6 1318.8,1101.6" class="ar"/>
<polygon points="1320.5,1210.0 1318.8,1200.0 1322.2,1200.0" class="ar"/>
<text x="0" y="4.5" font-size="12.5" class="t" text-anchor="middle" textLength="78.5" lengthAdjust="spacingAndGlyphs" transform="translate(1312.4 1149.7) rotate(-90)">2x10 TRTD FJ</text>
<text x="0" y="4.5" font-size="12.5" class="ti" text-anchor="middle" textLength="55.7" lengthAdjust="spacingAndGlyphs" transform="translate(1328.0 1149.7) rotate(-90)">@ 16" O.C.</text>
<polyline points="1228.8,1181.5 1228.8,1226.5 1291.5,1226.5 1291.5,1210.7 1245.7,1210.7 1245.7,1181.5" class="w"/>
<polyline points="1231.0,1181.5 1231.0,1224.4 1289.3,1224.4 1289.3,1212.9 1243.5,1212.9 1243.5,1181.5" class="g"/>
<line x1="1237.2" y1="1182.0" x2="1237.2" y2="1212.0" class="wl"/>
<line x1="1244.0" y1="1218.5" x2="1277.0" y2="1218.5" class="wl"/>
<rect x="1230.6" y="1211.8" width="13.4" height="13.4" class="pl"/>
<line x1="1230.6" y1="1211.8" x2="1244.0" y2="1225.2" class="pl"/>
<line x1="1230.6" y1="1225.2" x2="1244.0" y2="1211.8" class="pl"/>
<rect x="1277.2" y="1211.8" width="13.4" height="13.4" class="pl"/>
<line x1="1277.2" y1="1211.8" x2="1290.6" y2="1225.2" class="pl"/>
<line x1="1277.2" y1="1225.2" x2="1290.6" y2="1211.8" class="pl"/>
<polyline points="1474.0,1181.5 1474.0,1226.5 1411.3,1226.5 1411.3,1210.7 1457.1,1210.7 1457.1,1181.5" class="w"/>
<polyline points="1471.8,1181.5 1471.8,1224.4 1413.5,1224.4 1413.5,1212.9 1459.3,1212.9 1459.3,1181.5" class="g"/>
<line x1="1465.6" y1="1182.0" x2="1465.6" y2="1212.0" class="wl"/>
<line x1="1458.8" y1="1218.5" x2="1425.8" y2="1218.5" class="wl"/>
<rect x="1458.8" y="1211.8" width="13.4" height="13.4" class="pl"/>
<line x1="1458.8" y1="1211.8" x2="1472.2" y2="1225.2" class="pl"/>
<line x1="1458.8" y1="1225.2" x2="1472.2" y2="1211.8" class="pl"/>
<rect x="1412.2" y="1211.8" width="13.4" height="13.4" class="pl"/>
<line x1="1412.2" y1="1211.8" x2="1425.6" y2="1225.2" class="pl"/>
<line x1="1412.2" y1="1225.2" x2="1425.6" y2="1211.8" class="pl"/>
<line x1="1291.5" y1="1218.5" x2="1411.3" y2="1218.5" class="w"/>
<line x1="1291.5" y1="1222.3" x2="1411.3" y2="1222.3" class="wdd"/>
<line x1="1291.5" y1="1224.6" x2="1411.3" y2="1224.6" class="g"/>
<line x1="1291.5" y1="1226.5" x2="1411.3" y2="1226.5" class="w"/>
<line x1="1279.8" y1="1226.0" x2="1279.8" y2="1281.5" class="wd"/>
<line x1="1423.0" y1="1226.0" x2="1423.0" y2="1304.5" class="wd"/>
<line x1="1279.8" y1="1281.5" x2="1279.8" y2="1547.7" class="w"/>
<line x1="1423.0" y1="1304.5" x2="1423.0" y2="1547.7" class="w"/>
<line x1="1289.2" y1="1283.2" x2="1289.2" y2="1450.0" class="w"/>
<line x1="1413.3" y1="1303.0" x2="1413.3" y2="1450.0" class="w"/>
<line x1="1279.8" y1="1281.7" x2="1423.0" y2="1304.5" class="w"/>
<line x1="1289.2" y1="1302.9" x2="1413.3" y2="1302.9" class="w"/>
<line x1="1289.2" y1="1322.5" x2="1413.3" y2="1322.5" class="w"/>
<line x1="1289.2" y1="1342.0" x2="1413.3" y2="1342.0" class="w"/>
<line x1="1289.2" y1="1362.0" x2="1413.3" y2="1362.0" class="w"/>
<line x1="1289.2" y1="1381.5" x2="1413.3" y2="1381.5" class="w"/>
<line x1="1289.2" y1="1401.0" x2="1413.3" y2="1401.0" class="w"/>
<line x1="1289.2" y1="1420.6" x2="1413.3" y2="1420.6" class="w"/>
<line x1="1351.4" y1="1313.0" x2="1351.4" y2="1492.8" class="w"/>
<polygon points="1351.4,1304.5 1353.1,1314.0 1349.7,1314.0" class="ar"/>
<rect x="1220.6" y="1440.0" width="262.1" height="107.7" class="w"/>
<line x1="1220.6" y1="1492.8" x2="1482.7" y2="1492.8" class="w"/>
<line x1="1230.3" y1="1440.0" x2="1230.3" y2="1450.0" class="w"/>
<line x1="1230.3" y1="1450.0" x2="1289.2" y2="1450.0" class="w"/>
<line x1="1413.3" y1="1450.0" x2="1472.5" y2="1450.0" class="w"/>
<line x1="1472.5" y1="1440.0" x2="1472.5" y2="1450.0" class="w"/>
<line x1="1240.3" y1="1440.0" x2="1240.3" y2="1547.7" class="w"/>
<line x1="1462.5" y1="1440.0" x2="1462.5" y2="1547.7" class="w"/>
<line x1="1260.3" y1="1450.0" x2="1260.3" y2="1538.4" class="w"/>
<line x1="1443.0" y1="1450.0" x2="1443.0" y2="1538.4" class="w"/>
<line x1="1230.3" y1="1538.4" x2="1472.5" y2="1538.4" class="w"/>
<line x1="1230.3" y1="1538.4" x2="1230.3" y2="1547.7" class="w"/>
<line x1="1472.5" y1="1538.4" x2="1472.5" y2="1547.7" class="w"/>
<line x1="1289.5" y1="1538.4" x2="1289.5" y2="1547.7" class="w"/>
<line x1="1413.3" y1="1538.4" x2="1413.3" y2="1547.7" class="w"/>
<text x="1203.8" y="1497.2" font-size="12" class="d">UP</text>
<text x="1485.0" y="1497.2" font-size="12" class="d">UP</text>
</svg>
</body></html>
